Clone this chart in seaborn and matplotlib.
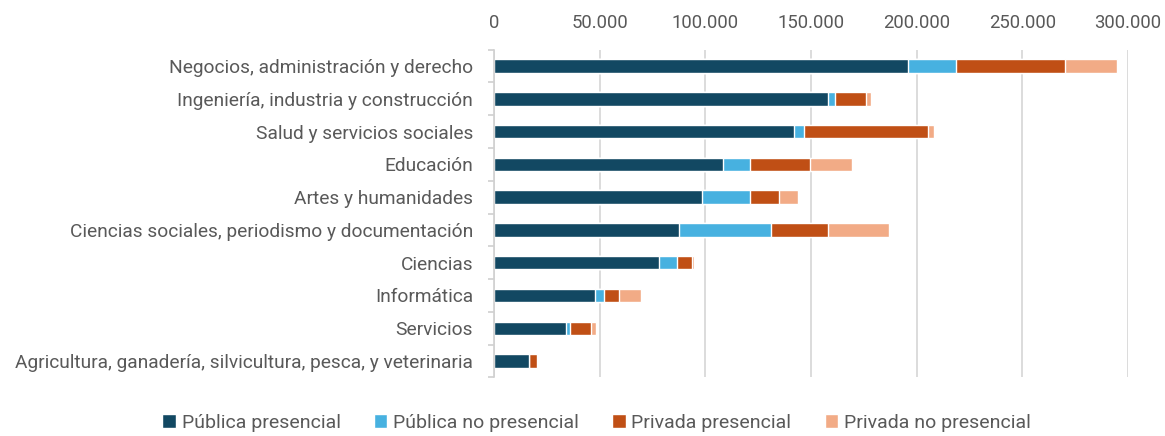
import pandas as pd
import seaborn as sns
import matplotlib.pyplot as plt
from matplotlib.patches import Patch
from matplotlib.ticker import FuncFormatter, FixedLocator

# Datos (estudiantes por rama y modalidad)
categorias = [
    "Negocios, administración y derecho",
    "Ingeniería, industria y construcción",
    "Salud y servicios sociales",
    "Educación",
    "Artes y humanidades",
    "Ciencias sociales, periodismo y documentación",
    "Ciencias",
    "Informática",
    "Servicios",
    "Agricultura, ganadería, silvicultura, pesca, y veterinaria",
]
publica_presencial = [195900, 158300, 142100, 108500, 98500, 87600, 77900, 47900, 34100, 16500]
publica_no_presencial = [22700, 3300, 4800, 12800, 22500, 43600, 8500, 4100, 1900, 100]
privada_presencial = [51400, 14400, 58700, 28100, 14000, 26900, 7400, 7000, 10100, 3900]
privada_no_presencial = [24800, 2300, 2700, 20000, 9100, 28700, 800, 10500, 2100, 200]

series = ["Pública presencial", "Pública no presencial", "Privada presencial", "Privada no presencial"]
colores = ["#124862", "#47B1E0", "#C04F15", "#F2AB86"]

df = pd.DataFrame({
    series[0]: publica_presencial,
    series[1]: publica_no_presencial,
    series[2]: privada_presencial,
    series[3]: privada_no_presencial,
}, index=categorias)
acumulado = df.cumsum(axis=1)

sns.set_theme(style="white")
plt.rcParams['font.family'] = ['Roboto', 'DejaVu Sans']

fig = plt.figure(figsize=(11.65, 4.36), dpi=100)
ax = fig.add_axes([0.424, 0.1344, 0.5442, 0.7518])

# stacked bars: draw the longest cumulative first, shorter ones on top
for serie, color in reversed(list(zip(series, colores))):
    sns.barplot(x=acumulado[serie].values, y=categorias, order=categorias,
                color=color, orient="h", width=0.41, saturation=1,
                errorbar=None, ax=ax)

ax.set_xlim(0, 300000)
ax.set_ylim(9.5, -0.5)
ax.xaxis.tick_top()
ax.xaxis.set_major_formatter(FuncFormatter(lambda v, p: f"{int(v):,}".replace(",", ".")))
ax.set_xticks(range(0, 300001, 50000))
ax.tick_params(axis="x", length=0, labelcolor="#595959", labelsize=13.3, pad=13)
ax.tick_params(axis="y", which="major", length=0, labelcolor="#595959", labelsize=13.8, pad=15)
ax.yaxis.set_minor_locator(FixedLocator([i - 0.5 for i in range(len(categorias) + 1)]))
ax.tick_params(axis="y", which="minor", left=True, length=4, width=1.2, color="#d0d0d0", direction="out")
ax.set_xlabel("")
ax.set_ylabel("")

ax.grid(axis="x", color="#d9d9d9", lw=1.3)
ax.set_axisbelow(True)
for s in ["top", "right", "bottom"]:
    ax.spines[s].set_visible(False)
ax.spines["left"].set_color("#d0d0d0")
ax.spines["left"].set_linewidth(1.2)

handles = [Patch(facecolor=c) for c in colores]
fig.legend(handles, series, loc="center", bbox_to_anchor=(0.512, 0.03), ncol=4,
           frameon=False, fontsize=14, handlelength=0.7, handleheight=0.7,
           columnspacing=1.7, handletextpad=0.3, labelcolor="#595959")

fig.savefig("out.png", dpi=100)
